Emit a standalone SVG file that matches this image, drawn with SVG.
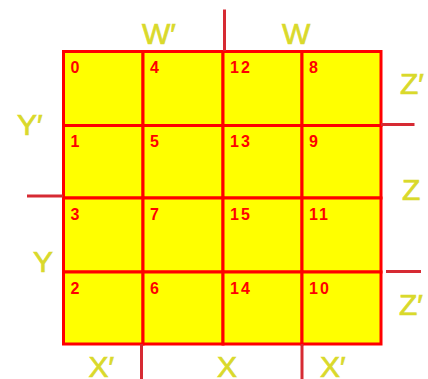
<svg xmlns="http://www.w3.org/2000/svg" width="428" height="379" viewBox="0 0 428 379">
<style>
.cell{fill:#ffff00;stroke:#ff0000;stroke-width:3}
.num{font-family:"Liberation Sans",Arial,sans-serif;font-size:16px;font-weight:bold;fill:#ff0000;letter-spacing:2px}
.lbl{font-family:"Liberation Sans",Arial,sans-serif;font-size:30px;fill:#d9d92b;stroke:#d9d92b;stroke-width:0.7px}
.ext{stroke:#d62a33;stroke-width:3;fill:none}
</style>
<rect width="428" height="379" fill="#ffffff"/>
<g id="cells">
<g id="c0"><rect class="cell" x="63.5" y="51.5" width="79.5" height="74"/><text class="num" x="70.5" y="73">0</text></g>
<g id="c4"><rect class="cell" x="143" y="51.5" width="80" height="74"/><text class="num" x="150" y="73">4</text></g>
<g id="c12"><rect class="cell" x="223" y="51.5" width="79" height="74"/><text class="num" x="230" y="73">12</text></g>
<g id="c8"><rect class="cell" x="302" y="51.5" width="79" height="74"/><text class="num" x="309" y="73">8</text></g>
<g id="c1"><rect class="cell" x="63.5" y="125.5" width="79.5" height="72.5"/><text class="num" x="70.5" y="147">1</text></g>
<g id="c5"><rect class="cell" x="143" y="125.5" width="80" height="72.5"/><text class="num" x="150" y="147">5</text></g>
<g id="c13"><rect class="cell" x="223" y="125.5" width="79" height="72.5"/><text class="num" x="230" y="147">13</text></g>
<g id="c9"><rect class="cell" x="302" y="125.5" width="79" height="72.5"/><text class="num" x="309" y="147">9</text></g>
<g id="c3"><rect class="cell" x="63.5" y="198" width="79.5" height="74"/><text class="num" x="70.5" y="220">3</text></g>
<g id="c7"><rect class="cell" x="143" y="198" width="80" height="74"/><text class="num" x="150" y="220">7</text></g>
<g id="c15"><rect class="cell" x="223" y="198" width="79" height="74"/><text class="num" x="230" y="220">15</text></g>
<g id="c11"><rect class="cell" x="302" y="198" width="79" height="74"/><text class="num" x="309" y="220">11</text></g>
<g id="c2"><rect class="cell" x="63.5" y="272" width="79.5" height="72"/><text class="num" x="70.5" y="294">2</text></g>
<g id="c6"><rect class="cell" x="143" y="272" width="80" height="72"/><text class="num" x="150" y="294">6</text></g>
<g id="c14"><rect class="cell" x="223" y="272" width="79" height="72"/><text class="num" x="230" y="294">14</text></g>
<g id="c10"><rect class="cell" x="302" y="272" width="79" height="72"/><text class="num" x="309" y="294">10</text></g>
</g>
<g id="connectors">
<line class="ext" x1="224.5" y1="9.5" x2="224.5" y2="51"/>
<line class="ext" x1="381" y1="124.5" x2="414.5" y2="124.5"/>
<line class="ext" x1="27" y1="196" x2="63" y2="196"/>
<line class="ext" x1="386" y1="271.5" x2="421" y2="271.5"/>
<line class="ext" x1="141.5" y1="344" x2="141.5" y2="379"/>
<line class="ext" x1="302" y1="344" x2="302" y2="379"/>
</g>
<g id="labels">
<text class="lbl" x="142" y="43.5">W′</text>
<text class="lbl" x="282" y="43.5">W</text>
<text class="lbl" x="400" y="93.5">Z′</text>
<text class="lbl" x="17" y="135">Y′</text>
<text class="lbl" x="402" y="200">Z</text>
<text class="lbl" x="33" y="272">Y</text>
<text class="lbl" x="399" y="315">Z′</text>
<text class="lbl" x="88.5" y="377">X′</text>
<text class="lbl" x="217" y="377">X</text>
<text class="lbl" x="320" y="377">X′</text>
</g>
</svg>
